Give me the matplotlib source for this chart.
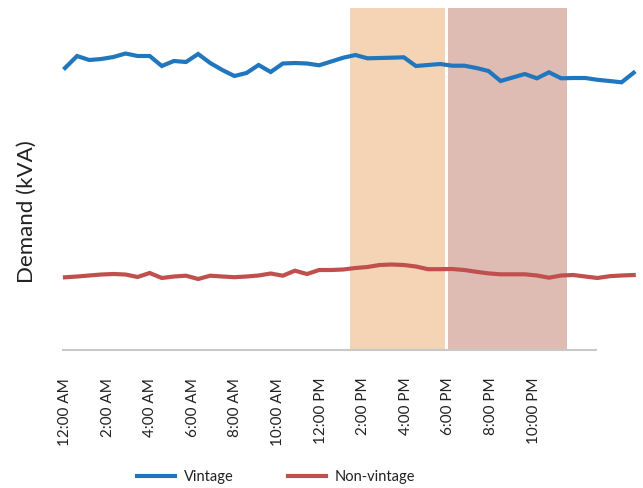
import numpy as np
import matplotlib
matplotlib.use("Agg")
import matplotlib.pyplot as plt

# ── Data (half-hourly demand, arbitrary kVA scale) ──────────────────────────
half_hours = list(range(48))

vintage = [282, 294, 290, 291, 293, 296.5, 294, 294, 284, 289, 288, 296,
           287, 280, 274, 277, 285, 278, 286.5, 287, 286.5, 284.7, 288.5, 292.3,
           295, 291.7, 292, 292.3, 292.7, 284, 285, 286, 284.3, 284.3, 282, 279,
           269, 272.5, 276, 271.7, 277.7, 271.7, 272, 272, 270.2, 269, 267.7, 277.3]

non_vintage = [72.7, 73.5, 74.5, 75.5, 76, 75.5, 73, 77, 72, 73.5, 74.3, 71,
               74.3, 73.5, 72.8, 73.5, 74.5, 76.5, 74.3, 79.3, 76, 80, 80, 80.5,
               82, 83, 85, 85.5, 85, 83.5, 80.8, 80.8, 81, 80, 78.2, 76.6,
               75.7, 75.7, 75.7, 74.5, 72.3, 74.5, 75, 73.5, 72, 73.8, 74.5, 75]

tick_labels = ["12:00 AM", "2:00 AM", "4:00 AM", "6:00 AM", "8:00 AM", "10:00 AM",
               "12:00 PM", "2:00 PM", "4:00 PM", "6:00 PM", "8:00 PM", "10:00 PM"]

# shaded windows (in half-hour index units)
peak_window = (23.55, 31.4)
evening_window = (31.65, 41.5)

# ── Plot ────────────────────────────────────────────────────────────────────
plt.rcParams["font.family"] = ["Lato", "DejaVu Sans"]

fig = plt.figure(figsize=(6.43, 4.88), dpi=100)
ax = fig.add_axes([55 / 643, 138 / 488, 585 / 643, 342 / 488])

ax.axvspan(*peak_window, color="#F5D4B5", lw=0, zorder=0)
ax.axvspan(*evening_window, color="#DFBCB3", lw=0, zorder=0)

ax.plot(half_hours, vintage, color="#2077BE", lw=3, solid_joinstyle="miter",
        label="Vintage", zorder=3)
ax.plot(half_hours, non_vintage, color="#C0504D", lw=3, solid_joinstyle="miter",
        label="Non-vintage", zorder=3)

ax.set_xlim(-10 / 12.1, 575 / 12.1)
ax.set_ylim(0, 342)

# grey baseline, shorter than the lines
ax.hlines(0, -0.25, 44.0, color="#C8C8C8", lw=1.5, clip_on=False, zorder=2)

for s in ax.spines.values():
    s.set_visible(False)

ax.set_yticks([])
ax.set_xticks(np.arange(len(tick_labels)) * 3.52)
ax.set_xticklabels(tick_labels, rotation=90, fontsize=11, color="#222222")
ax.tick_params(axis="x", length=0, pad=20)

fig.text(27 / 643, 1 - 212 / 488, "Demand (kVA)", rotation=90, fontsize=16,
         color="#222222", ha="center", va="center")

leg = fig.legend(loc="center", bbox_to_anchor=(276 / 643, 1 - 477 / 488), ncol=2,
                 frameon=False, fontsize=10.5, handlelength=2.6, columnspacing=3.7,
                 handletextpad=0.6)
for t in leg.get_texts():
    t.set_color("#222222")

fig.savefig("out.png", dpi=100)
